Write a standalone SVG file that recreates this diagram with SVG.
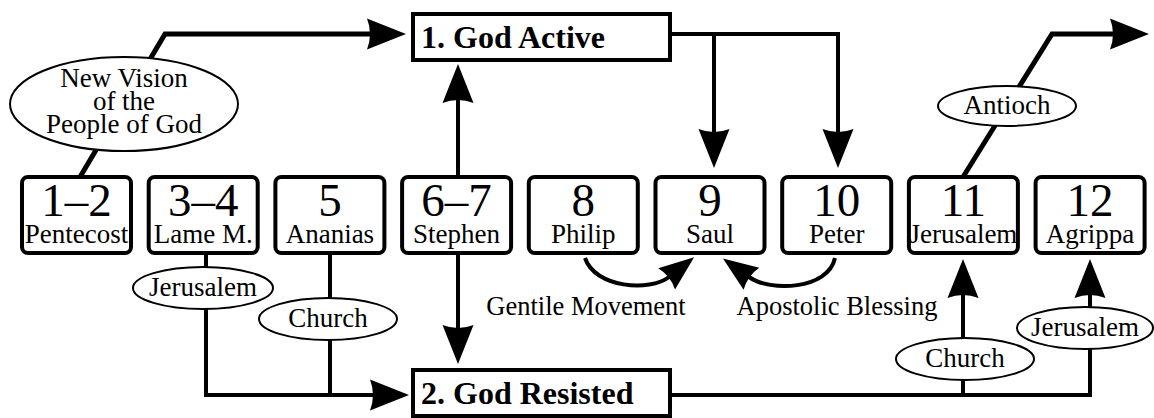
<svg xmlns="http://www.w3.org/2000/svg" width="1154" height="418" viewBox="0 0 1154 418">
<style>
.box{fill:#fff;stroke:#000;stroke-width:4}
.ell{fill:#fff;stroke:#000;stroke-width:2}
.ln{fill:none;stroke:#000;stroke-width:4}
.dg{fill:none;stroke:#000;stroke-width:5}
.num{font-family:"Liberation Serif","Times New Roman",serif;font-size:47px;text-anchor:middle}
.lab{font-family:"Liberation Serif","Times New Roman",serif;font-size:27px;text-anchor:middle}
.el{font-family:"Liberation Serif","Times New Roman",serif;font-size:27px;text-anchor:middle}
.cap{font-family:"Liberation Serif","Times New Roman",serif;font-size:26.5px;text-anchor:middle}
.big{font-family:"Liberation Serif","Times New Roman",serif;font-size:32px;font-weight:bold}
</style>
<defs>
<marker id="arr" markerUnits="userSpaceOnUse" markerWidth="60" markerHeight="40" refX="0" refY="0" viewBox="-10 -20 60 40" orient="auto" overflow="visible">
<path d="M-4,-15.5 L35,0 L-4,15.5 Q2,0 -4,-15.5 Z" fill="#000"/>
</marker>
<marker id="arrS" markerUnits="userSpaceOnUse" markerWidth="60" markerHeight="40" refX="0" refY="0" viewBox="-10 -20 60 40" orient="auto" overflow="visible">
<path d="M-3,-13.5 L32,0 L-3,13.5 Q2,0 -3,-13.5 Z" fill="#000"/>
</marker>
</defs>
<g id="connectors">
<path class="dg" d="M80,177 L165,34 L371,34" marker-end="url(#arr)"/>
<path class="ln" d="M671,34 L838,34 L838,133" marker-end="url(#arr)"/>
<path class="ln" d="M714,34 L714,133" marker-end="url(#arr)"/>
<path class="dg" d="M963,177 L1052,34 L1114,34" marker-end="url(#arr)"/>
<path class="ln" d="M458,175 L458,99" marker-end="url(#arr)"/>
<path class="ln" d="M458,255 L458,329" marker-end="url(#arr)"/>
<path class="ln" d="M206,255 L206,395 L374,395" marker-end="url(#arr)"/>
<path class="ln" d="M330,255 L330,395"/>
<path class="ln" d="M672,395 L1092,395"/>
<path class="ln" d="M963,395 L963,294" marker-end="url(#arr)"/>
<path class="ln" d="M1090,395 L1090,294" marker-end="url(#arr)"/>
<path class="ln" d="M585,258 C595,288 650,292 669,277" marker-end="url(#arrS)"/>
<path class="ln" d="M835,258 C828,290 770,292 749,277" marker-end="url(#arrS)"/>
</g>
<g id="label-newvision"><ellipse class="ell" cx="124" cy="104" rx="114" ry="47"/>
<text class="el" x="124" y="87">New Vision</text><text class="el" x="124" y="110">of the</text><text class="el" x="124" y="133">People of God</text></g>
<g id="label-antioch"><ellipse class="ell" cx="1007" cy="106" rx="69" ry="20"/><text class="el" x="1007" y="114">Antioch</text></g>
<g id="label-jerusalem1"><ellipse class="ell" cx="203" cy="288" rx="70" ry="21"/><text class="el" x="203" y="296">Jerusalem</text></g>
<g id="label-church1"><ellipse class="ell" cx="328" cy="319" rx="69" ry="21"/><text class="el" x="328" y="327">Church</text></g>
<g id="label-church2"><ellipse class="ell" cx="965" cy="359" rx="69" ry="21"/><text class="el" x="965" y="367">Church</text></g>
<g id="label-jerusalem2"><ellipse class="ell" cx="1085" cy="328" rx="68" ry="21"/><text class="el" x="1085" y="336">Jerusalem</text></g>
<text class="cap" x="586" y="315">Gentile Movement</text>
<text class="cap" x="837" y="315">Apostolic Blessing</text>
<g id="god-active"><rect class="box" x="413" y="14" width="257" height="46"/><text class="big" x="421" y="48">1. God Active</text></g>
<g id="god-resisted"><rect class="box" x="413" y="370" width="257" height="46"/><text class="big" x="421" y="404">2. God Resisted</text></g>
<g id="ch1-2"><rect class="box" x="22" y="177" width="109" height="76" rx="6"/><text class="num" x="76.5" y="216">1–2</text><text class="lab" x="76.5" y="243">Pentecost</text></g>
<g id="ch3-4"><rect class="box" x="148.7" y="177" width="109" height="76" rx="6"/><text class="num" x="203.2" y="216">3–4</text><text class="lab" x="203.2" y="243">Lame M.</text></g>
<g id="ch5"><rect class="box" x="275.4" y="177" width="109" height="76" rx="6"/><text class="num" x="329.9" y="216">5</text><text class="lab" x="329.9" y="243">Ananias</text></g>
<g id="ch6-7"><rect class="box" x="402.1" y="177" width="109" height="76" rx="6"/><text class="num" x="456.6" y="216">6–7</text><text class="lab" x="456.6" y="243">Stephen</text></g>
<g id="ch8"><rect class="box" x="528.8" y="177" width="109" height="76" rx="6"/><text class="num" x="583.3" y="216">8</text><text class="lab" x="583.3" y="243">Philip</text></g>
<g id="ch9"><rect class="box" x="655.5" y="177" width="109" height="76" rx="6"/><text class="num" x="710" y="216">9</text><text class="lab" x="710" y="243">Saul</text></g>
<g id="ch10"><rect class="box" x="782.2" y="177" width="109" height="76" rx="6"/><text class="num" x="836.7" y="216">10</text><text class="lab" x="836.7" y="243">Peter</text></g>
<g id="ch11"><rect class="box" x="908.9" y="177" width="109" height="76" rx="6"/><text class="num" x="963.4" y="216">11</text><text class="lab" x="963.4" y="243">Jerusalem</text></g>
<g id="ch12"><rect class="box" x="1035.6" y="177" width="109" height="76" rx="6"/><text class="num" x="1090.1" y="216">12</text><text class="lab" x="1090.1" y="243">Agrippa</text></g>
</svg>
